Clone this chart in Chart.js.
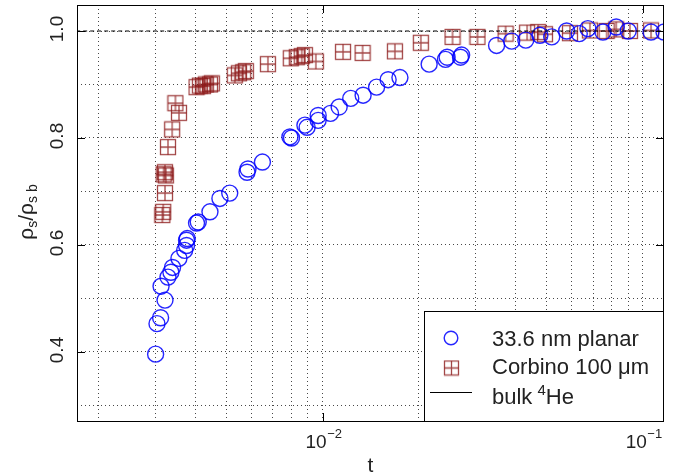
<!DOCTYPE html>
<html>
<head>
<meta charset="utf-8">
<script src="https://cdn.jsdelivr.net/npm/chart.js@4.4.0/dist/chart.umd.min.js"></script>
<style>
  html, body { margin: 0; padding: 0; background: #fff; }
</style>
</head>
<body>
<canvas id="rhoChart" width="674" height="476"></canvas>
<script>
// superfluid fraction vs reduced temperature
const planarT = [0.00301, 0.00304, 0.00312, 0.00313, 0.00322, 0.00329, 0.00336, 0.0034, 0.00356, 0.00371,
  0.00376, 0.00376, 0.00378, 0.00404, 0.00409, 0.00445, 0.00478, 0.00513, 0.00581, 0.00585,
  0.00649, 0.00791, 0.00800, 0.00881, 0.00895, 0.00969, 0.00969, 0.01059, 0.01127, 0.01225,
  0.01339, 0.01475, 0.01603, 0.01745, 0.02153, 0.02421, 0.02450, 0.02698, 0.02720, 0.03497,
  0.03899, 0.04315, 0.04775, 0.05200, 0.05788, 0.06339, 0.06745, 0.07516, 0.08270, 0.09016,
  0.1062, 0.1166];
const planarRho = [0.396, 0.453, 0.464, 0.523, 0.497, 0.540, 0.549, 0.558, 0.575, 0.590,
  0.599, 0.609, 0.612, 0.641, 0.643, 0.662, 0.687, 0.697, 0.736, 0.742,
  0.755, 0.802, 0.800, 0.824, 0.820, 0.833, 0.842, 0.846, 0.858, 0.874,
  0.880, 0.895, 0.909, 0.913, 0.938, 0.947, 0.951, 0.951, 0.955, 0.973,
  0.981, 0.983, 0.992, 0.989, 1.000, 0.995, 1.0045, 0.998, 1.0075, 1.000,
  0.998, 0.998];

const corbinoT = [0.00316, 0.00318, 0.00322, 0.00319, 0.00322, 0.00324, 0.00329, 0.00339, 0.00347, 0.00356,
  0.00404, 0.00414, 0.00423, 0.00432, 0.00445, 0.00451, 0.00532, 0.00548, 0.00565, 0.00576,
  0.00675, 0.00796, 0.00831, 0.00861, 0.00881, 0.00953, 0.01159, 0.01334, 0.01683, 0.02028,
  0.02547, 0.03048, 0.03732, 0.04355, 0.04718, 0.04953, 0.05929, 0.06842, 0.07718, 0.08270,
  0.09125, 0.1062];
const corbinoRho = [0.656, 0.662, 0.697, 0.732, 0.736, 0.730, 0.783, 0.816, 0.865, 0.847,
  0.895, 0.898, 0.897, 0.900, 0.900, 0.902, 0.917, 0.921, 0.923, 0.925,
  0.938, 0.949, 0.951, 0.953, 0.955, 0.943, 0.961, 0.959, 0.962, 0.978,
  0.989, 0.989, 0.995, 0.997, 0.998, 0.994, 0.996, 1.001, 1.000, 1.003,
  1.000, 1.001];

const bulkT = [0.0017, 0.12];
const bulkRho = [1, 1];

const seriesNames = ['33.6 nm planar', 'Corbino 100 \u03bcm', 'bulk'];

const xGridTicks = [0.002, 0.003, 0.004, 0.005, 0.006, 0.007, 0.008, 0.009, 0.01,
  0.02, 0.03, 0.04, 0.05, 0.06, 0.07, 0.08, 0.09, 0.1];
const xLabelTicks = [0.01, 0.1];
const yGridTicks = [0.3, 0.4, 0.5, 0.6, 0.7, 0.8, 0.9, 1.0];
const yLabelTicks = [0.4, 0.6, 0.8, 1.0];

const BLUE = 'rgba(0,0,255,0.85)';
const RED = 'rgba(140,25,25,0.8)';
const FONT = '"Liberation Sans", Arial, Helvetica, sans-serif';

function toPoints(xs, ys) {
  return xs.map((x, i) => ({ x: x, y: ys[i] }));
}

// square with a cross through it
function squarePlus(size, color, lw) {
  const c = document.createElement('canvas');
  c.width = c.height = size + 2;
  const g = c.getContext('2d');
  g.strokeStyle = color;
  g.lineWidth = lw;
  g.strokeRect(1.5, 1.5, size - 1, size - 1);
  g.beginPath();
  g.moveTo(1 + size / 2, 1.5);
  g.lineTo(1 + size / 2, size + 0.5);
  g.moveTo(1.5, 1 + size / 2);
  g.lineTo(size + 0.5, 1 + size / 2);
  g.stroke();
  return c;
}
const squareMark = squarePlus(16, RED, 1.3);
const squareLegend = squarePlus(15, RED, 1.3);

const frameAndText = {
  id: 'frameAndText',
  afterDraw(chart) {
    const ctx = chart.ctx;
    const a = chart.chartArea;
    const xs = chart.scales.x, ys = chart.scales.y;
    ctx.save();

    // box round the plot
    ctx.strokeStyle = '#000';
    ctx.lineWidth = 1;
    ctx.strokeRect(Math.round(a.left) + 0.5, Math.round(a.top) + 0.5,
      Math.round(a.right - a.left) - 1, Math.round(a.bottom - a.top));

    // inward ticks on all four sides
    ctx.beginPath();
    xLabelTicks.forEach(v => {
      const px = Math.round(xs.getPixelForValue(v)) + 0.5;
      ctx.moveTo(px, a.bottom); ctx.lineTo(px, a.bottom - 8);
      ctx.moveTo(px, a.top); ctx.lineTo(px, a.top + 8);
    });
    yLabelTicks.forEach(v => {
      const py = Math.round(ys.getPixelForValue(v)) + 0.5;
      ctx.moveTo(a.left, py); ctx.lineTo(a.left + 8, py);
      ctx.moveTo(a.right, py); ctx.lineTo(a.right - 8, py);
    });
    ctx.stroke();

    ctx.fillStyle = '#222';
    ctx.textBaseline = 'alphabetic';

    // x tick labels as powers of ten
    xLabelTicks.forEach(v => {
      const px = xs.getPixelForValue(v);
      const exp = '\u2212' + Math.abs(Math.round(Math.log10(v)));
      ctx.font = '19px ' + FONT;
      const w1 = ctx.measureText('10').width;
      ctx.font = '13px ' + FONT;
      const w2 = ctx.measureText(exp).width;
      const x0 = px - (w1 + w2) / 2 + 1;
      ctx.textAlign = 'left';
      ctx.font = '19px ' + FONT;
      ctx.fillText('10', x0, 448);
      ctx.font = '13px ' + FONT;
      ctx.fillText(exp, x0 + w1 + 0.5, 438);
    });

    // y tick labels, turned
    ctx.font = '19px ' + FONT;
    ctx.textAlign = 'center';
    yLabelTicks.forEach(v => {
      const py = ys.getPixelForValue(v);
      ctx.save();
      ctx.translate(63, py - 2);
      ctx.rotate(-Math.PI / 2);
      ctx.fillText(v.toFixed(1), 0, 0);
      ctx.restore();
    });

    // axis titles
    ctx.font = '21px ' + FONT;
    ctx.textAlign = 'center';
    ctx.fillText('t', (a.left + a.right) / 2, 472);

    const parts = [
      ['\u03c1', 21, 0], ['s', 14, 4], ['/', 21, 0], ['\u03c1', 21, 0], ['s b', 14, 4]
    ];
    let total = 0;
    parts.forEach(p => { ctx.font = p[1] + 'px ' + FONT; total += ctx.measureText(p[0]).width; });
    ctx.save();
    ctx.translate(33, (a.top + a.bottom) / 2 - 1);
    ctx.rotate(-Math.PI / 2);
    ctx.textAlign = 'left';
    let cx = -total / 2;
    parts.forEach(p => {
      ctx.font = p[1] + 'px ' + FONT;
      ctx.fillText(p[0], cx, p[2]);
      cx += ctx.measureText(p[0]).width;
    });
    ctx.restore();

    // legend box
    const lx = 424.5, ly = 311.5;
    ctx.fillStyle = '#fff';
    ctx.fillRect(lx, ly, a.right - lx, a.bottom - ly);
    ctx.strokeStyle = '#000';
    ctx.lineWidth = 1;
    ctx.strokeRect(lx, ly, Math.round(a.right) - 0.5 - lx, Math.round(a.bottom) + 0.5 - ly);

    ctx.strokeStyle = BLUE;
    ctx.lineWidth = 1.4;
    ctx.beginPath();
    ctx.arc(451, 338, 6.8, 0, Math.PI * 2);
    ctx.stroke();
    ctx.drawImage(squareLegend, 451.5 - squareLegend.width / 2, 368 - squareLegend.height / 2);
    ctx.strokeStyle = '#000';
    ctx.lineWidth = 1;
    ctx.beginPath();
    ctx.moveTo(430, 392.5);
    ctx.lineTo(472, 392.5);
    ctx.stroke();

    ctx.fillStyle = '#222';
    ctx.textAlign = 'left';
    ctx.font = '22px ' + FONT;
    ctx.fillText(seriesNames[0], 492, 345.5);
    ctx.fillText(seriesNames[1], 492, 373.5);
    ctx.fillText(seriesNames[2] + ' ', 492, 403.5);
    let bx = 492 + ctx.measureText(seriesNames[2] + ' ').width - 1;
    ctx.font = '15px ' + FONT;
    ctx.fillText('4', bx, 395);
    bx += ctx.measureText('4').width;
    ctx.font = '22px ' + FONT;
    ctx.fillText('He', bx, 403.5);

    ctx.restore();
  }
};

const ctx = document.getElementById('rhoChart').getContext('2d');
const rhoChart = new Chart(ctx, {
  type: 'scatter',
  data: {
    datasets: [
      {
        type: 'line',
        label: seriesNames[2],
        data: toPoints(bulkT, bulkRho),
        borderColor: '#000',
        borderWidth: 1,
        borderDash: [4, 3],
        pointRadius: 0,
        fill: false
      },
      {
        label: seriesNames[0],
        data: toPoints(planarT, planarRho),
        pointStyle: 'circle',
        pointRadius: 8,
        pointBorderWidth: 1.4,
        pointBorderColor: BLUE,
        pointBackgroundColor: 'rgba(0,0,0,0)'
      },
      {
        label: seriesNames[1],
        data: toPoints(corbinoT, corbinoRho),
        pointStyle: squareMark,
        pointRadius: 8,
        pointBorderColor: RED,
        pointBackgroundColor: 'rgba(0,0,0,0)'
      }
    ]
  },
  options: {
    responsive: false,
    animation: false,
    devicePixelRatio: 1,
    layout: { autoPadding: false, padding: { top: 5, right: 10, left: 0, bottom: 0 } },
    plugins: {
      legend: { display: false },
      tooltip: { enabled: false }
    },
    scales: {
      x: {
        type: 'logarithmic',
        min: 0.00171,
        max: 0.1166,
        afterBuildTicks: s => { s.ticks = xGridTicks.map(v => ({ value: v })); },
        afterFit: s => { s.height = 55; },
        ticks: { display: false },
        grid: { color: 'rgba(40,40,40,0.85)', lineWidth: 1, drawTicks: false },
        border: { display: false, dash: [1, 3] }
      },
      y: {
        type: 'linear',
        min: 0.271,
        max: 1.0486,
        afterBuildTicks: s => { s.ticks = yGridTicks.map(v => ({ value: v })); },
        afterFit: s => { s.width = 77; },
        ticks: { display: false },
        grid: { color: 'rgba(40,40,40,0.85)', lineWidth: 1, drawTicks: false },
        border: { display: false, dash: [1, 3] }
      }
    }
  },
  plugins: [frameAndText]
});
</script>
</body>
</html>
